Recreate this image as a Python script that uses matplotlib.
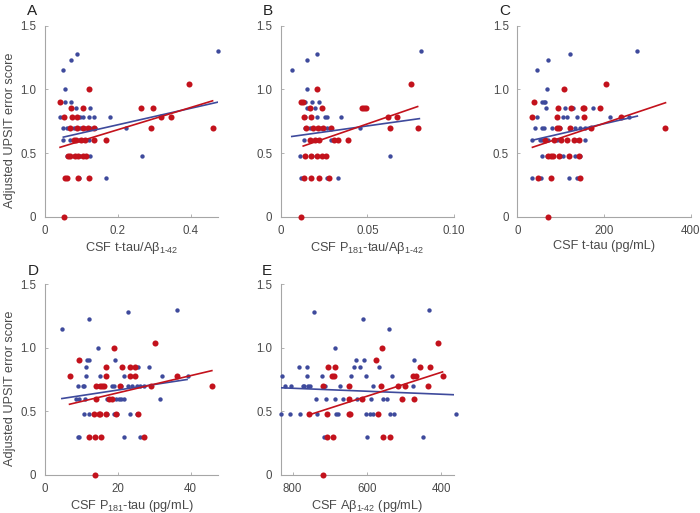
import matplotlib
matplotlib.use("Agg")
import matplotlib.pyplot as plt

plt.rcParams['font.family'] = ['Liberation Sans', 'DejaVu Sans']
plt.rcParams['mathtext.fontset'] = 'custom'
plt.rcParams['mathtext.rm'] = 'Liberation Sans'
plt.rcParams['mathtext.it'] = 'Liberation Sans:italic'
plt.rcParams['mathtext.default'] = 'regular'

BLUE = '#3E4A9C'
RED = '#C3121C'
SPINE = '#A6A6A6'
TXT = '#4A4A4A'

# ---- panel A: CSF t-tau/Abeta
a_blue_x = [0.051, 0.072, 0.089, 0.475, 0.056, 0.056, 0.072, 0.086, 0.123,
            0.042, 0.097, 0.106, 0.12, 0.134, 0.18,
            0.051, 0.061, 0.07, 0.079, 0.097, 0.111, 0.125, 0.138, 0.222,
            0.051, 0.07, 0.093, 0.106, 0.12,
            0.061, 0.079, 0.097, 0.106, 0.125, 0.267,
            0.062, 0.094, 0.169]
a_blue_y = [1.15, 1.23, 1.28, 1.30, 1.0, 0.9, 0.9, 0.85, 0.85,
            0.78, 0.78, 0.78, 0.78, 0.78, 0.78,
            0.7, 0.7, 0.7, 0.7, 0.7, 0.7, 0.7, 0.7, 0.7,
            0.6, 0.6, 0.6, 0.6, 0.6,
            0.48, 0.48, 0.48, 0.48, 0.48, 0.48,
            0.3, 0.3, 0.3]
a_red_x = [0.054, 0.042, 0.12, 0.396,
           0.072, 0.105, 0.264, 0.297,
           0.054, 0.074, 0.088, 0.32, 0.346,
           0.07, 0.088, 0.105, 0.118, 0.135, 0.292, 0.46,
           0.081, 0.087, 0.1, 0.11, 0.135, 0.169,
           0.065, 0.07, 0.082, 0.092, 0.104, 0.112,
           0.055, 0.06, 0.09, 0.12]
a_red_y = [0.0, 0.9, 1.0, 1.04,
           0.85, 0.85, 0.85, 0.85,
           0.78, 0.78, 0.78, 0.78, 0.78,
           0.7, 0.7, 0.7, 0.7, 0.7, 0.7, 0.7,
           0.6, 0.6, 0.6, 0.6, 0.6, 0.6,
           0.48, 0.48, 0.48, 0.48, 0.48, 0.48,
           0.3, 0.3, 0.3, 0.3]
a_fit_blue = ([0.051, 0.475], [0.625, 0.90])
a_fit_red = ([0.042, 0.46], [0.545, 0.91])

# ---- panel B: CSF P181-tau/Abeta
b_blue_x = [0.0064, 0.015, 0.021, 0.081, 0.015,
            0.014, 0.018, 0.022,
            0.015, 0.02, 0.024,
            0.014, 0.021, 0.0255, 0.027, 0.035,
            0.014, 0.017, 0.021, 0.023, 0.027, 0.046,
            0.0136, 0.0175, 0.021, 0.029,
            0.011, 0.018, 0.021, 0.063,
            0.0117, 0.027, 0.033]
b_blue_y = [1.15, 1.23, 1.28, 1.30, 1.0,
            0.9, 0.9, 0.9,
            0.85, 0.85, 0.85,
            0.78, 0.78, 0.78, 0.78, 0.78,
            0.7, 0.7, 0.7, 0.7, 0.7, 0.7,
            0.6, 0.6, 0.6, 0.6,
            0.48, 0.48, 0.48, 0.48,
            0.3, 0.3, 0.3]
b_red_x = [0.0119, 0.012, 0.013, 0.0212, 0.075,
           0.017, 0.024, 0.0468, 0.048, 0.049,
           0.0134, 0.0173, 0.062, 0.067,
           0.0144, 0.0185, 0.0214, 0.0246, 0.029, 0.063, 0.079,
           0.017, 0.02, 0.022, 0.031, 0.033, 0.0386,
           0.014, 0.0177, 0.021, 0.0237, 0.026,
           0.0136, 0.0177, 0.022, 0.028]
b_red_y = [0.0, 0.9, 0.9, 1.0, 1.04,
           0.85, 0.85, 0.85, 0.85, 0.85,
           0.78, 0.78, 0.78, 0.78,
           0.7, 0.7, 0.7, 0.7, 0.7, 0.7, 0.7,
           0.6, 0.6, 0.6, 0.6, 0.6, 0.6,
           0.48, 0.48, 0.48, 0.48, 0.48,
           0.3, 0.3, 0.3, 0.3]
b_fit_blue = ([0.0064, 0.080], [0.63, 0.77])
b_fit_red = ([0.013, 0.079], [0.555, 0.865])

# ---- panel C: CSF t-tau (pg/mL)
c_blue_x = [45, 72, 122, 277, 68,
            58, 62, 65,
            66, 110, 129, 175,
            45, 91, 105, 115, 137, 215, 258,
            40, 56, 62, 79, 91, 98, 122, 133, 145, 157, 168,
            34, 52, 58, 72, 91, 114, 137, 156,
            56, 68, 79, 98, 106, 133, 145,
            35, 55, 119, 138]
c_blue_y = [1.15, 1.23, 1.28, 1.30, 1.0,
            0.9, 0.9, 0.9,
            0.85, 0.85, 0.85, 0.85,
            0.78, 0.78, 0.78, 0.78, 0.78, 0.78, 0.78,
            0.7, 0.7, 0.7, 0.7, 0.7, 0.7, 0.7, 0.7, 0.7, 0.7, 0.7,
            0.6, 0.6, 0.6, 0.6, 0.6, 0.6, 0.6, 0.6,
            0.48, 0.48, 0.48, 0.48, 0.48, 0.48, 0.48,
            0.3, 0.3, 0.3, 0.3]
c_red_x = [70, 38, 108, 205, 342,
           93, 125, 151, 154, 192,
           35, 92, 153, 240,
           92, 96, 122, 170,
           64, 85, 101, 114, 131, 142,
           70, 77, 82, 96, 119, 143,
           47, 77, 145]
c_red_y = [0.0, 0.9, 1.0, 1.04, 0.7,
           0.85, 0.85, 0.85, 0.85, 0.85,
           0.78, 0.78, 0.78, 0.78,
           0.7, 0.7, 0.7, 0.7,
           0.6, 0.6, 0.6, 0.6, 0.6, 0.6,
           0.48, 0.48, 0.48, 0.48, 0.48, 0.48,
           0.3, 0.3, 0.3]
c_fit_blue = ([34, 277], [0.60, 0.79])
c_fit_red = ([35, 342], [0.545, 0.895])

# ---- panel D: CSF P181-tau (pg/mL)
d_blue_x = [4.7, 12, 22.9, 36.3, 14.6,
            11.7, 12.2, 19.3,
            11.2, 25.5, 28.5,
            11.2, 15.2, 21.8, 24.8, 32.2, 39.4,
            9.1, 10.5, 10.8, 15, 18.4, 18.9, 20.9, 22.7, 23.9, 25.3, 26.2, 27.2,
            8.6, 9.5, 11.1, 17.1, 19.4, 20.3, 20.9, 21.8, 31.7,
            10.8, 12, 17.2, 18.9, 19.8, 23.3, 25.4,
            9.1, 9.5, 21.7, 26.2]
d_blue_y = [1.15, 1.23, 1.28, 1.30, 1.0,
            0.9, 0.9, 0.9,
            0.85, 0.85, 0.85,
            0.78, 0.78, 0.78, 0.78, 0.78, 0.78,
            0.7, 0.7, 0.7, 0.7, 0.7, 0.7, 0.7, 0.7, 0.7, 0.7, 0.7, 0.7,
            0.6, 0.6, 0.6, 0.6, 0.6, 0.6, 0.6, 0.6, 0.6,
            0.48, 0.48, 0.48, 0.48, 0.48, 0.48, 0.48,
            0.3, 0.3, 0.3, 0.3]
d_red_x = [13.7, 9.5, 18.9, 30.3, 45.8, 6.8,
           16.9, 21.3, 23.5, 24.8,
           16.8, 23.3, 24.7, 36.3,
           14.1, 15.2, 15.8, 16.3, 20.7, 29.2,
           14.1, 17.5, 18.3,
           13.4, 14.8, 15.2, 16.9, 19.6, 25.5,
           12, 13.9, 15.4, 27.2]
d_red_y = [0.0, 0.9, 1.0, 1.04, 0.7, 0.78,
           0.85, 0.85, 0.85, 0.85,
           0.78, 0.78, 0.78, 0.78,
           0.7, 0.7, 0.7, 0.7, 0.7, 0.7,
           0.6, 0.6, 0.6,
           0.48, 0.48, 0.48, 0.48, 0.48, 0.48,
           0.3, 0.3, 0.3, 0.3]
d_fit_blue = ([4.7, 39], [0.60, 0.75])
d_fit_red = ([6.8, 45.8], [0.555, 0.82])

# ---- panel E: CSF Abeta1-42 (pg/mL), reversed axis
e_blue_x = [743, 610, 541, 433, 686, 360,
            630, 607, 474,
            782, 761, 635, 617, 568,
            828, 761, 722, 694, 643, 601, 532, 474,
            821, 804, 773, 769, 759, 753, 712, 673, 582, 516, 476,
            736, 710, 686, 664, 626, 590, 557, 546,
            831, 807, 780, 733, 682, 677, 601, 591, 582, 537, 526,
            715, 599, 448]
e_blue_y = [1.28, 1.23, 1.15, 1.30, 1.0, 0.48,
            0.9, 0.9, 0.9,
            0.85, 0.85, 0.85, 0.85, 0.85,
            0.78, 0.78, 0.78, 0.78, 0.78, 0.78, 0.78, 0.78,
            0.7, 0.7, 0.7, 0.7, 0.7, 0.7, 0.7, 0.7, 0.7, 0.7, 0.7,
            0.6, 0.6, 0.6, 0.6, 0.6, 0.6, 0.6, 0.6,
            0.48, 0.48, 0.48, 0.48, 0.48, 0.48, 0.48, 0.48, 0.48, 0.48, 0.48,
            0.3, 0.3, 0.3]
e_red_x = [718, 409, 559, 574,
           705, 686, 457, 431,
           694, 689, 476, 467, 396,
           718, 649, 562, 516, 496, 434,
           649, 613, 505, 472,
           756, 706, 649, 644, 570,
           706, 691, 557, 538]
e_red_y = [0.0, 1.04, 1.0, 0.9,
           0.85, 0.85, 0.85, 0.85,
           0.78, 0.78, 0.78, 0.78, 0.78,
           0.7, 0.7, 0.7, 0.7, 0.7, 0.7,
           0.6, 0.6, 0.6, 0.6,
           0.48, 0.48, 0.48, 0.48, 0.48,
           0.3, 0.3, 0.3, 0.3]
e_fit_blue = ([832, 365], [0.685, 0.63])
e_fit_red = ([757, 396], [0.47, 0.81])

y_ticks = [0, 0.5, 1.0, 1.5]
y_ticklabels = ['0', '0.5', '1.0', '1.5']
y_label = 'Adjusted UPSIT error score'


def draw_panel(ax, bx, by, rx, ry, fit_b, fit_r, xlim, xticks, xticklabels, xlabel):
    ax.scatter(bx, by, s=10, color=BLUE, linewidths=0, clip_on=False, zorder=3)
    ax.scatter(rx, ry, s=19, color=RED, linewidths=0, clip_on=False, zorder=4)
    ax.plot(fit_b[0], fit_b[1], color=BLUE, lw=1.2, zorder=5)
    ax.plot(fit_r[0], fit_r[1], color=RED, lw=1.2, zorder=5)
    ax.set_xlim(xlim)
    ax.set_ylim(0, 1.5)
    ax.set_xticks(xticks)
    ax.set_xticklabels(xticklabels)
    ax.set_yticks(y_ticks)
    ax.set_yticklabels(y_ticklabels)
    for side in ('top', 'right'):
        ax.spines[side].set_visible(False)
    for side in ('left', 'bottom'):
        ax.spines[side].set_color(SPINE)
        ax.spines[side].set_linewidth(0.8)
    ax.tick_params(direction='in', length=2.5, width=0.6, color=SPINE,
                   labelcolor=TXT, labelsize=8.3, pad=6)
    ax.set_xlabel(xlabel, fontsize=9.2, color=TXT, labelpad=2)


fig = plt.figure(figsize=(7.0, 5.13), dpi=100)
W, H = 0.2476, 0.3723
ax_a = fig.add_axes([0.0639, 0.5776, W, H])
ax_b = fig.add_axes([0.4010, 0.5776, W, H])
ax_c = fig.add_axes([0.7390, 0.5776, W, H])
ax_d = fig.add_axes([0.0639, 0.0747, W, 0.371])
ax_e = fig.add_axes([0.4010, 0.0747, W, 0.371])

draw_panel(ax_a, a_blue_x, a_blue_y, a_red_x, a_red_y, a_fit_blue, a_fit_red,
           (0, 0.475), [0, 0.2, 0.4], ['0', '0.2', '0.4'],
           r'CSF t-tau/A$\beta_{1\text{-}42}$')
draw_panel(ax_b, b_blue_x, b_blue_y, b_red_x, b_red_y, b_fit_blue, b_fit_red,
           (0, 0.1), [0, 0.05, 0.10], ['0', '0.05', '0.10'],
           r'CSF P$_{181}$-tau/A$\beta_{1\text{-}42}$')
draw_panel(ax_c, c_blue_x, c_blue_y, c_red_x, c_red_y, c_fit_blue, c_fit_red,
           (0, 400), [0, 200, 400], ['0', '200', '400'],
           'CSF t-tau (pg/mL)')
draw_panel(ax_d, d_blue_x, d_blue_y, d_red_x, d_red_y, d_fit_blue, d_fit_red,
           (0, 47.5), [0, 20, 40], ['0', '20', '40'],
           r'CSF P$_{181}$-tau (pg/mL)')
draw_panel(ax_e, e_blue_x, e_blue_y, e_red_x, e_red_y, e_fit_blue, e_fit_red,
           (832, 365), [800, 600, 400], ['800', '600', '400'],
           r'CSF A$\beta_{1\text{-}42}$ (pg/mL)')

for ax, yc in ((ax_a, 0.45), (ax_d, 0.455)):
    ax.set_ylabel(y_label, fontsize=9.2, color=TXT, va='center')
    ax.yaxis.set_label_coords(-0.2, yc)

letters = [('A', 27, 4), ('B', 263, 4), ('C', 499, 4), ('D', 28, 264), ('E', 262, 264)]
for letter, px, py in letters:
    fig.text(px / 700, 1 - py / 513, letter, fontsize=11, color='#222222',
             ha='left', va='top')

fig.savefig('out.png', dpi=100)
